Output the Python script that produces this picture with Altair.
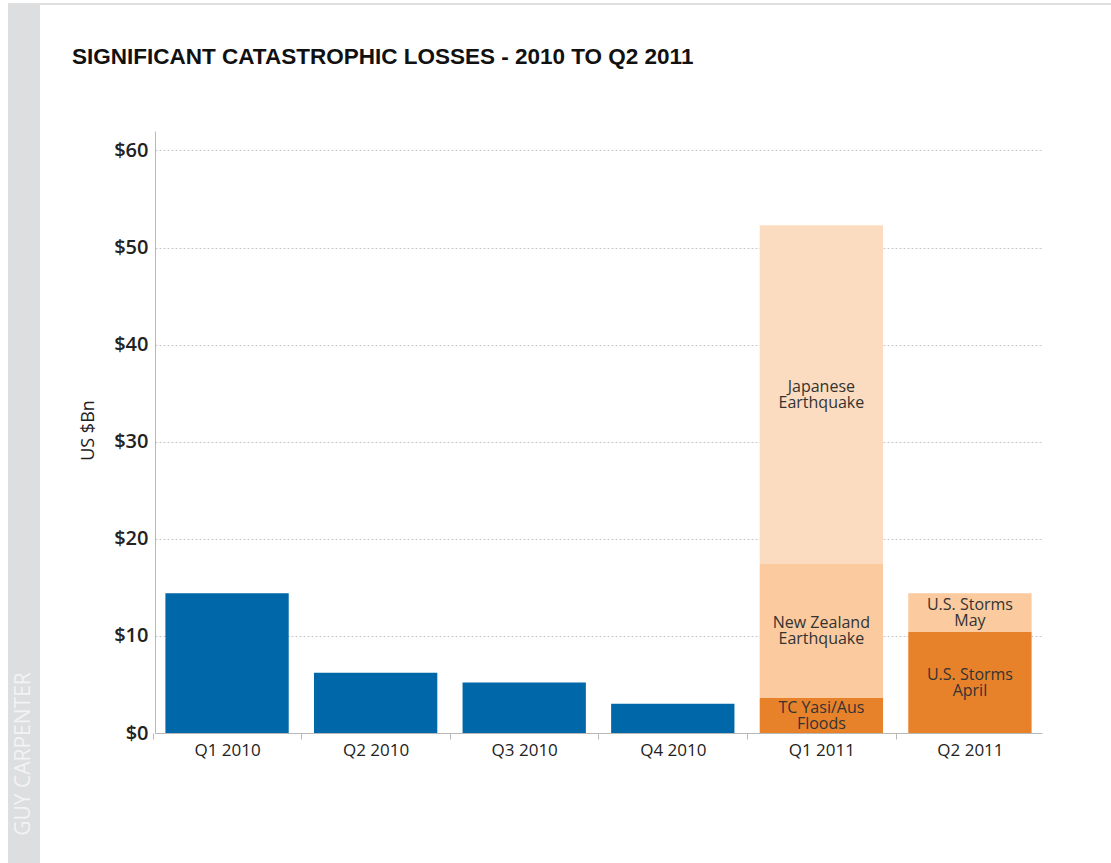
import altair as alt
import pandas as pd

# ---- data ----
quarters = ["Q1 2010", "Q2 2010", "Q3 2010", "Q4 2010",
            "Q1 2011", "Q1 2011", "Q1 2011", "Q2 2011", "Q2 2011"]
events = ["", "", "", "",
          "TC Yasi/Aus\nFloods", "New Zealand\nEarthquake", "Japanese\nEarthquake",
          "U.S. Storms\nApril", "U.S. Storms\nMay"]
kinds = ["2010", "2010", "2010", "2010", "TC", "NZ", "JP", "April", "May"]
losses = [14.4, 6.2, 5.2, 3.0, 3.6, 13.8, 34.9, 10.4, 4.0]
seg_order = [0, 0, 0, 0, 0, 1, 2, 0, 1]

quarter_domain = ["Q1 2010", "Q2 2010", "Q3 2010", "Q4 2010", "Q1 2011", "Q2 2011"]
y_ticks = [0, 10, 20, 30, 40, 50, 60]
kind_domain = ["2010", "TC", "NZ", "JP", "April", "May"]
kind_colors = ["#0067a9", "#e8822a", "#fbca9e", "#fcdcc0", "#e8822a", "#fbca9e"]

df = pd.DataFrame({"quarter": quarters, "event": events, "kind": kinds,
                   "loss": losses, "seg": seg_order})
brand = pd.DataFrame({"brand": ["GUY CARPENTER"]})

FONT = "Open Sans"
STEP_HALF = 74.3

x_axis = alt.Axis(title=None, labelAngle=0, labelFont=FONT, labelFontSize=17,
                  labelColor="#222222", labelPadding=3, tickSize=6,
                  tickColor="#b8b8b8", domainColor="#b8b8b8",
                  tickOffset=-STEP_HALF, labelOffset=STEP_HALF, grid=False)
y_axis = alt.Axis(values=y_ticks, labelExpr="'$' + datum.value",
                  labelFont=FONT, labelFontSize=20, labelFontWeight=600,
                  labelColor="#222222", labelPadding=7, ticks=False,
                  domainColor="#b8b8b8", grid=True, gridDash=[2, 2],
                  gridColor="#c8c8c8", title="US $Bn", titleFont=FONT,
                  titleFontSize=18, titleFontWeight="normal",
                  titleColor="#222222", titleX=-67, titleY=299,
                  titleAngle=270, titleAlign="center", titleBaseline="middle")
x_scale = alt.Scale(domain=quarter_domain, paddingInner=0.17, paddingOuter=0.07)
y_scale = alt.Scale(domain=[0, 62], nice=False, zero=True)

base = alt.Chart(df).transform_window(
    cum="sum(loss)", groupby=["quarter"], sort=[alt.SortField("seg")],
    frame=[None, 0]
).transform_calculate(
    y0="datum.cum - datum.loss", y1="datum.cum", mid="datum.cum - datum.loss / 2"
)

bars = base.mark_bar().encode(
    x=alt.X("quarter:N", sort=quarter_domain, scale=x_scale, axis=x_axis),
    y=alt.Y("y0:Q", scale=y_scale, axis=y_axis),
    y2="y1:Q",
    color=alt.Color("kind:N", scale=alt.Scale(domain=kind_domain, range=kind_colors),
                    legend=None),
)

labels = base.transform_filter("datum.event != ''").mark_text(
    font=FONT, fontSize=16, color="#333333", lineBreak="\n", lineHeight=16,
    baseline="middle", align="center", dy=-8
).encode(
    x=alt.X("quarter:N", sort=quarter_domain, scale=x_scale, axis=x_axis),
    y=alt.Y("mid:Q", scale=y_scale, axis=y_axis),
    text="event:N",
)

side = alt.Chart(brand).mark_rect(color="#dcdee0").encode(
    x=alt.value(-147), x2=alt.value(-115), y=alt.value(-126), y2=alt.value(732)
)
side_text = alt.Chart(brand).mark_text(
    font=FONT, fontSize=21, color="#f2f3f4", angle=270, align="center", baseline="middle"
).encode(x=alt.value(-131), y=alt.value(623), text="brand:N")
top_line = alt.Chart(brand).mark_rule(color="#d4d4d4", strokeWidth=1.5).encode(
    x=alt.value(-147), x2=alt.value(956), y=alt.value(-127)
)

chart = alt.layer(side, side_text, top_line, bars, labels).properties(
    width=887, height=602,
    background="white",
    autosize=alt.AutoSizeParams(type="none"),
    padding={"left": 155, "top": 131, "right": 69, "bottom": 130},
    title=alt.TitleParams(
        text="SIGNIFICANT CATASTROPHIC LOSSES - 2010 TO Q2 2011",
        anchor="start", frame="group", font="Liberation Sans", fontSize=22.5,
        fontWeight="bold", color="#111111", dx=-83, offset=-83, baseline="alphabetic"
    ),
).configure_view(stroke="transparent")

chart.save("out.html", embed_options={"renderer": "svg", "actions": False})
